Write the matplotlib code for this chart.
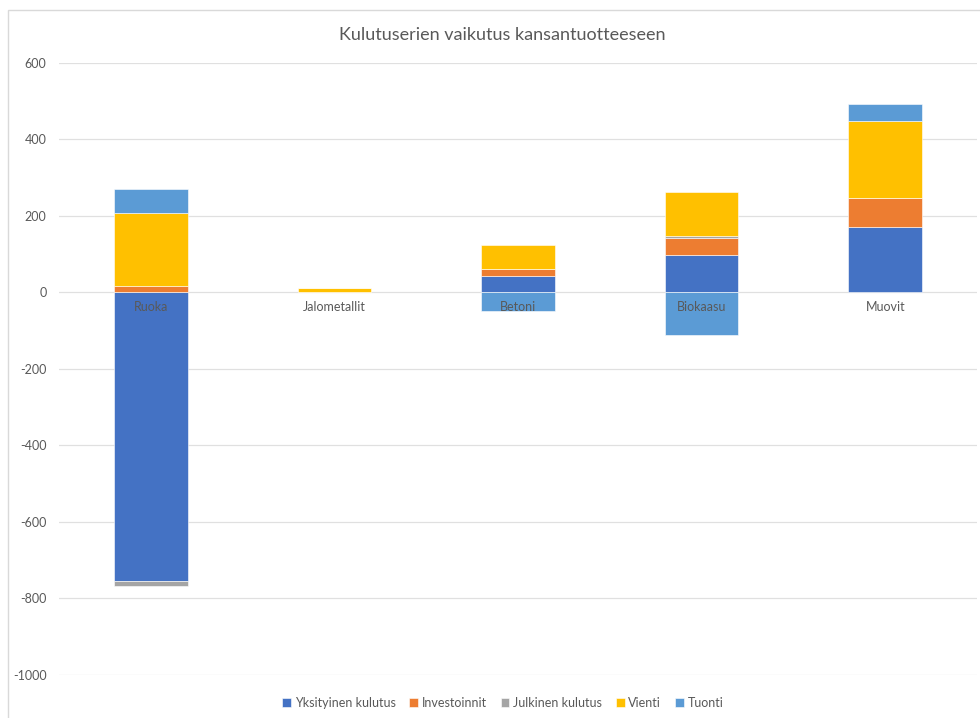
#!/usr/bin/env python3

import numpy as np
import matplotlib
matplotlib.use('Agg')
import matplotlib.pyplot as plt
from matplotlib.patches import Rectangle

categories = ['Ruoka', 'Jalometallit', 'Betoni', 'Biokaasu', 'Muovit']
series_names = ['Yksityinen kulutus', 'Investoinnit', 'Julkinen kulutus', 'Vienti', 'Tuonti']
yksityinen = [-754, 0, 42, 97, 170]
investoinnit = [17, 0, 19, 44, 75]
julkinen = [-13, 0, 0, 7, 0]
vienti = [190, 10, 63, 113, 202]
tuonti = [63, 0, -50, -111, 44]
colors = ['#4472C4', '#ED7D31', '#A5A5A5', '#FFC000', '#5B9BD5']

text_color = '#595959'
plt.rcParams['font.family'] = ['Lato', 'DejaVu Sans']
plt.rcParams['axes.unicode_minus'] = False

def main():
    fig = plt.figure(figsize=(9.8, 7.18), dpi=100)
    ax = fig.add_axes([59 / 980, 1 - 675 / 718, 918 / 980, 612.5 / 718])
    x = np.arange(len(categories))
    pos_base = np.zeros(len(categories))
    neg_base = np.zeros(len(categories))
    for name, vals, col in zip(series_names,
                               [yksityinen, investoinnit, julkinen, vienti, tuonti],
                               colors):
        vals = np.array(vals, dtype=float)
        bottoms = np.where(vals >= 0, pos_base, neg_base)
        ax.bar(x, vals, 0.4, bottom=bottoms, color=col, label=name,
               edgecolor='white', linewidth=0.4, zorder=3)
        pos_base += np.where(vals > 0, vals, 0)
        neg_base += np.where(vals < 0, vals, 0)

    ax.set_xlim(-0.5, len(categories) - 0.5)
    ax.set_ylim(-1000, 600)
    ax.set_yticks(range(-1000, 601, 200))
    ax.tick_params(axis='y', length=0, pad=9, labelsize=9, labelcolor=text_color)
    ax.set_xticks([])
    ax.grid(axis='y', color='#e0e0e0', linewidth=0.9, zorder=0)
    for s in ax.spines.values():
        s.set_visible(False)

    for i, cat in enumerate(categories):
        ax.annotate(cat, (i, 0), xytext=(0, -11), textcoords='offset points',
                    ha='center', va='center', fontsize=9, color=text_color, zorder=4)

    fig.text(0.513, 1 - 35 / 718, 'Kulutuserien vaikutus kansantuotteeseen',
             ha='center', va='center', fontsize=13, color=text_color)
    fig.legend(loc='center', bbox_to_anchor=(0.513, 1 - 703 / 718), ncol=5,
               frameon=False, handlelength=0.7, handleheight=0.7, handletextpad=0.3,
               columnspacing=1.1, fontsize=9, labelcolor=text_color)

    fig.patches.append(Rectangle((8 / 980, -0.05), 1.1, 1 - 10 / 718 + 0.05,
                                 transform=fig.transFigure, fill=False,
                                 edgecolor='#d9d9d9', linewidth=1))
    fig.savefig('out.png', dpi=100)

if __name__ == '__main__':
    main()
